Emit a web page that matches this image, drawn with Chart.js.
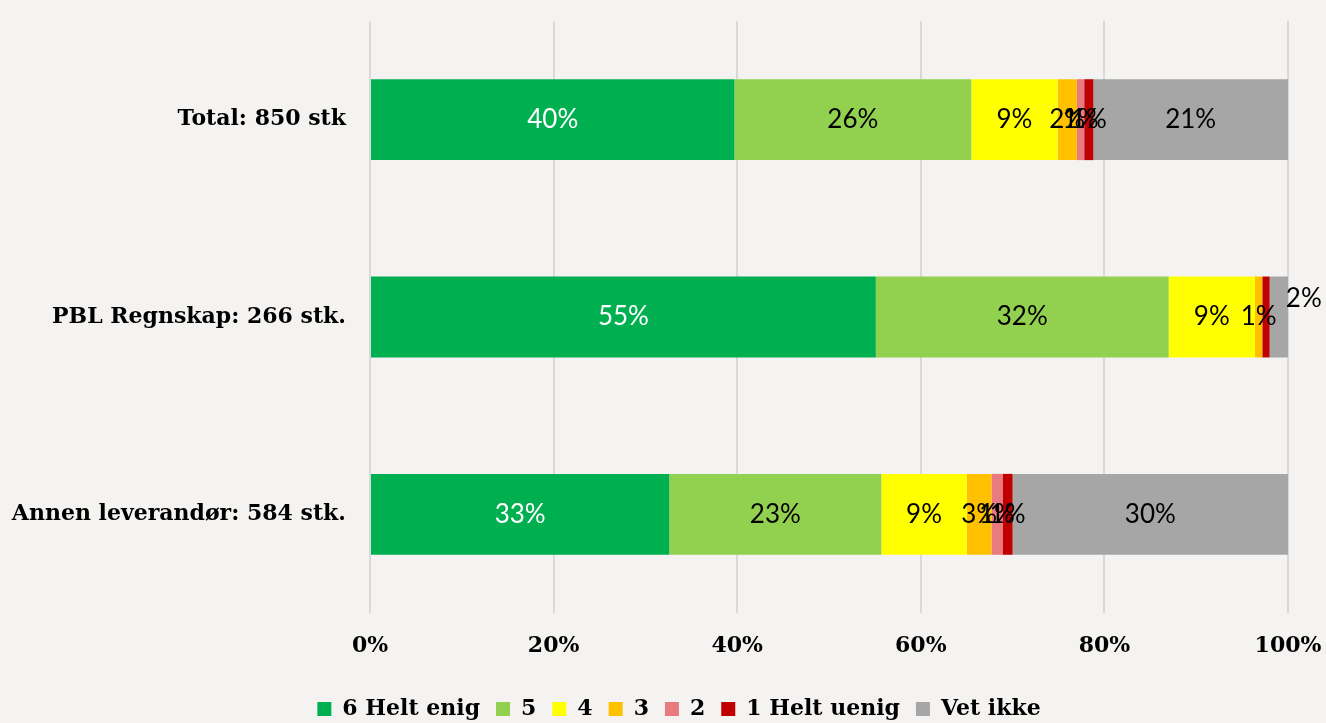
<!DOCTYPE html>
<html>
<head>
<meta charset="utf-8">
<script src="https://cdn.jsdelivr.net/npm/chart.js@4/dist/chart.umd.min.js"></script>
<style>
  html, body { margin: 0; padding: 0; background: #f4f3f1; }
  #wrap { width: 1326px; height: 723px; }
</style>
</head>
<body>
<div id="wrap"><canvas id="chart" width="1326" height="723"></canvas></div>
<script>
// Categories (top to bottom)
const categories = ['Total: 850 stk', 'PBL Regnskap: 266 stk.', 'Annen leverandør: 584 stk.'];

// Series names (legend order)
const seriesNames = ['6 Helt enig', '5', '4', '3', '2', '1 Helt uenig', 'Vet ikke'];

// Share of answers in percent, per series, per category
const helt6   = [39.7, 55.1, 32.6];
const score5  = [25.8, 31.9, 23.1];
const score4  = [9.4, 9.4, 9.3];
const score3  = [2.1, 0.8, 2.7];
const score2  = [0.8, 0.0, 1.2];
const uenig1  = [1.0, 0.8, 1.1];
const vetIkke = [21.2, 2.0, 30.0];

const xTicks = [0, 20, 40, 60, 80, 100];

const seriesValues = [helt6, score5, score4, score3, score2, uenig1, vetIkke];
const colors = ['#00b050', '#92d050', '#ffff00', '#ffc000', '#e97b80', '#c00000', '#a6a6a6'];
const labelColors = ['#ffffff', '#000000', '#000000', '#000000', '#000000', '#000000', '#000000'];

// labels Excel hid or moved by hand: [dataset][category]
const hiddenLabels = { '4-1': true, '5-1': true };
const labelOffsets = { '6-1': { dx: 25, dy: -18 } };

const serifBold = "'DejaVu Serif', serif";

// Draw value labels on each segment
const segmentLabels = {
    id: 'segmentLabels',
    afterDatasetsDraw(chart) {
        const ctx = chart.ctx;
        ctx.save();
        ctx.font = "26px Lato, 'Liberation Sans', sans-serif";
        ctx.textAlign = 'center';
        ctx.textBaseline = 'middle';
        chart.data.datasets.forEach((ds, di) => {
            const meta = chart.getDatasetMeta(di);
            meta.data.forEach((bar, i) => {
                const v = ds.data[i];
                if (!v || hiddenLabels[di + '-' + i]) return;
                const off = labelOffsets[di + '-' + i] || { dx: 0, dy: 0 };
                const cx = (bar.x + bar.base) / 2 + off.dx;
                ctx.fillStyle = labelColors[di];
                ctx.fillText(Math.round(v) + '%', cx, bar.y + off.dy);
            });
        });
        ctx.restore();
    }
};

// Background fill + nudge the legend a bit right, like the original
const bgPlugin = {
    id: 'bg',
    afterLayout(chart) {
        if (chart.legend) {
            chart.legend.left += 35;
            chart.legend.right += 35;
        }
    },
    beforeDraw(chart) {
        const ctx = chart.ctx;
        ctx.save();
        ctx.fillStyle = '#f4f3f1';
        ctx.fillRect(0, 0, chart.width, chart.height);
        ctx.restore();
    }
};

const datasets = seriesNames.map((name, i) => ({
    label: name,
    data: seriesValues[i],
    backgroundColor: colors[i],
    borderWidth: 0,
    barPercentage: 0.82,
    categoryPercentage: 0.5
}));

new Chart(document.getElementById('chart'), {
    type: 'bar',
    data: { labels: categories, datasets: datasets },
    options: {
        indexAxis: 'y',
        responsive: false,
        animation: false,
        layout: { padding: { top: 21, right: 38, left: 0, bottom: -7 } },
        scales: {
            x: {
                stacked: true,
                min: 0,
                max: 100,
                afterBuildTicks: (scale) => { scale.ticks = xTicks.map(v => ({ value: v })); },
                afterFit: (scale) => {
                    scale.height = 69;
                    scale.paddingLeft = 0;
                    scale.paddingRight = 0;
                },
                ticks: {
                    callback: (v) => v + '%',
                    color: '#000',
                    font: { family: serifBold, size: 22, weight: 'bold' },
                    padding: 20
                },
                grid: { color: '#d9d9d9', lineWidth: 2, drawTicks: false },
                border: { display: false }
            },
            y: {
                stacked: true,
                afterFit: (scale) => {
                    scale.width = 370;
                    scale.paddingTop = 0;
                    scale.paddingBottom = 0;
                },
                ticks: {
                    color: '#000',
                    font: { family: serifBold, size: 22, weight: 'bold' },
                    padding: 24
                },
                grid: { display: false, drawTicks: false },
                border: { display: false }
            }
        },
        plugins: {
            legend: {
                position: 'bottom',
                labels: {
                    boxWidth: 14,
                    boxHeight: 14,
                    padding: 16,
                    color: '#000',
                    font: { family: serifBold, size: 22, weight: 'bold' }
                }
            },
            tooltip: { enabled: false }
        }
    },
    plugins: [bgPlugin, segmentLabels]
});
</script>
</body>
</html>
